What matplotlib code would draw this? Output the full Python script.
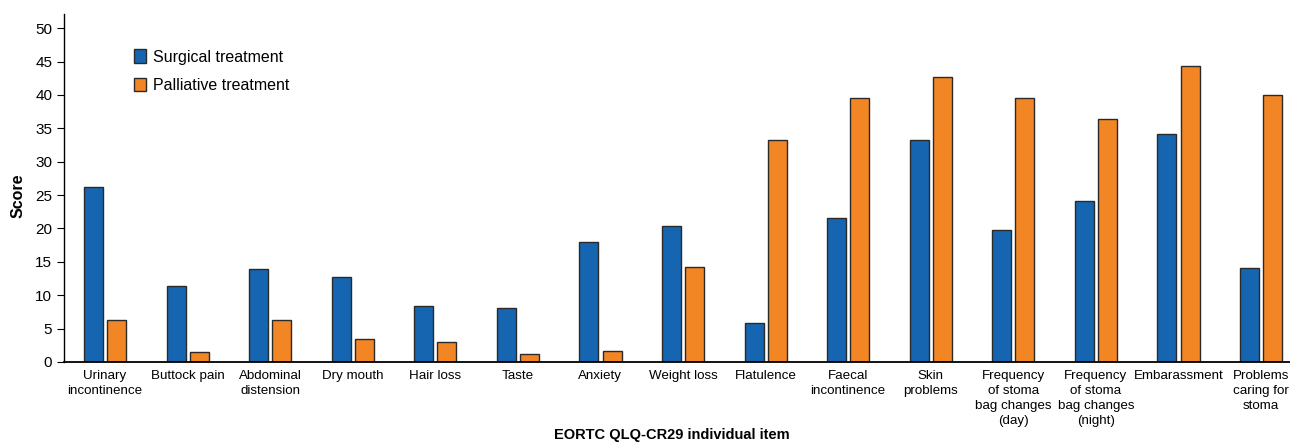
import numpy as np
import matplotlib
matplotlib.use("Agg")
import matplotlib.pyplot as plt

plt.rcParams['font.family'] = ['Liberation Sans', 'DejaVu Sans']

# EORTC QLQ-CR29 items
items = ['Urinary\nincontinence', 'Buttock pain', 'Abdominal\ndistension', 'Dry mouth',
         'Hair loss', 'Taste', 'Anxiety', 'Weight loss', 'Flatulence',
         'Faecal\nincontinence', 'Skin\nproblems', 'Frequency\nof stoma\nbag changes\n(day)',
         'Frequency\nof stoma\nbag changes\n(night)', 'Embarassment', 'Problems\ncaring for\nstoma']
surgical = [26.2, 11.4, 13.9, 12.7, 8.4, 8.1, 18.0, 20.4, 5.8, 21.6, 33.2, 19.8, 24.1, 34.1, 14.1]
palliative = [6.3, 1.5, 6.3, 3.4, 3.0, 1.2, 1.6, 14.2, 33.2, 39.5, 42.7, 39.5, 36.4, 44.3, 40.0]

blue = '#1565b0'
orange = '#f28524'

fig = plt.figure(figsize=(12.9, 4.43), dpi=100)
ax = fig.add_axes([0.0496, 0.183, 0.9504, 0.785])

x = np.arange(len(items))
w = 0.23
ax.bar(x - 0.14, surgical, w, color=blue, edgecolor='#2a2a2a', linewidth=1, label='Surgical treatment')
ax.bar(x + 0.14, palliative, w, color=orange, edgecolor='#2a2a2a', linewidth=1, label='Palliative treatment')

ax.set_xlim(-0.497, 14.351)
ax.set_ylim(0, 52.1)
ax.set_yticks(range(0, 51, 5))
ax.set_xticks(x)
ax.set_xticklabels(items, fontsize=9.6, linespacing=1.32)
ax.tick_params(axis='x', length=0, pad=6)
ax.tick_params(axis='y', labelsize=11, length=5, direction='out')

for s in ['top', 'right']:
    ax.spines[s].set_visible(False)
ax.spines['left'].set_linewidth(1)
ax.spines['bottom'].set_linewidth(1.3)

ax.set_ylabel('Score', fontsize=11.5, fontweight='bold')
ax.yaxis.set_label_coords(-0.031, 0.478)
fig.text(0.521, 0.003, 'EORTC QLQ-CR29 individual item', fontsize=10.5, fontweight='bold', ha='center', va='bottom')

ax.legend(loc='upper left', bbox_to_anchor=(0.045, 0.94), frameon=False, fontsize=11.5,
          handlelength=0.75, handleheight=0.9, handletextpad=0.5, labelspacing=0.85)

fig.savefig('out.png', dpi=100)
